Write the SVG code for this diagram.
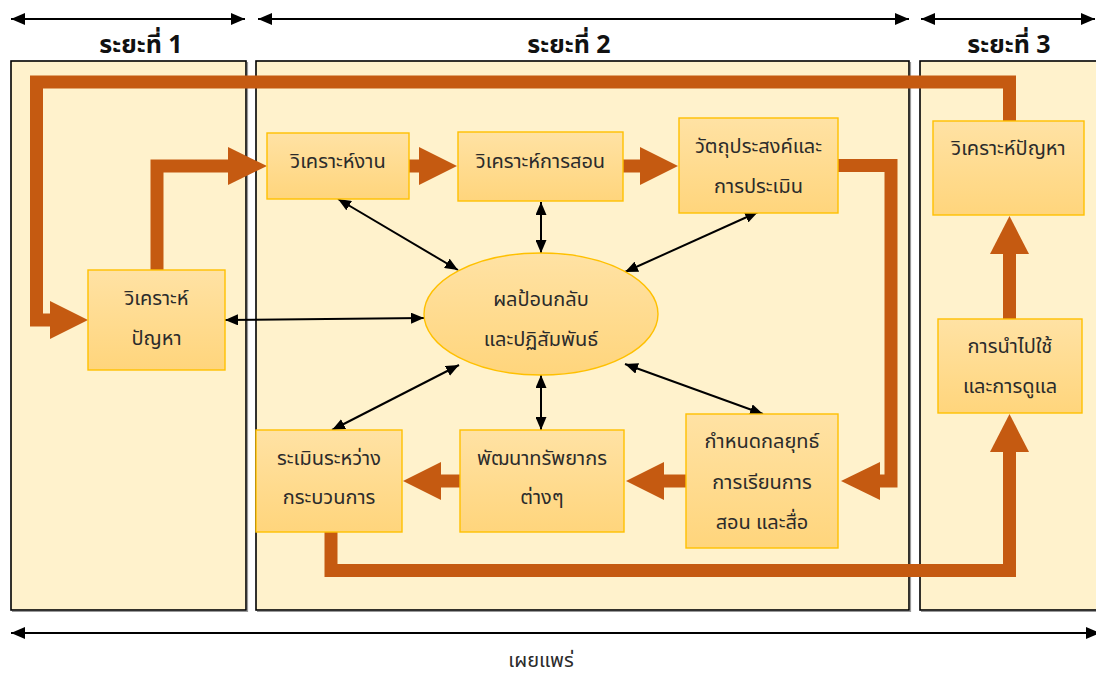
<svg xmlns="http://www.w3.org/2000/svg" width="1096" height="675" viewBox="0 0 1096 675">
  <defs>
    <linearGradient id="nodeFill" x1="0" y1="0" x2="0" y2="1">
      <stop offset="0" stop-color="#FFE2A4"/>
      <stop offset="1" stop-color="#FFD57C"/>
    </linearGradient>
    <marker id="tip" viewBox="0 0 13 11" refX="13" refY="5.5" markerWidth="13" markerHeight="11" markerUnits="userSpaceOnUse" orient="auto-start-reverse">
      <path d="M0,0 L13,5.5 L0,11 Z" fill="#000"/>
    </marker>
    <marker id="span" viewBox="0 0 14 12" refX="14" refY="6" markerWidth="14" markerHeight="12" markerUnits="userSpaceOnUse" orient="auto-start-reverse">
      <path d="M0,0 L14,6 L0,12 Z" fill="#000"/>
    </marker>
  </defs>
  <style>
    .panel { fill: #FFF2CC; stroke: #000; stroke-width: 1.6; }
    .shade { fill: none; stroke: #555; stroke-width: 1.2; opacity: 0.6; }
    .node { fill: url(#nodeFill); stroke: #FFC000; stroke-width: 1.4; }
    .lbl { font-family: "Noto Sans Thai", "Tahoma", "Leelawadee UI", "Noto Sans", "DejaVu Sans", sans-serif; font-size: 20px; fill: #2b2b2b; text-anchor: middle; }
    .head { font-family: "Noto Sans Thai", "Tahoma", "Noto Sans", "DejaVu Sans", sans-serif; font-size: 25px; font-weight: bold; fill: #111; text-anchor: middle; }
    .flow { fill: none; stroke: #C55A11; stroke-width: 13; stroke-linejoin: miter; }
    .flowhead { fill: #C55A11; }
    .link { stroke: #000; stroke-width: 2; fill: none; marker-start: url(#tip); marker-end: url(#tip); }
    .spanline { stroke: #000; stroke-width: 2; fill: none; marker-start: url(#span); marker-end: url(#span); }
  </style>

  <rect width="1096" height="675" fill="#fff"/>

  <!-- phase spans -->
  <g id="spans">
    <line class="spanline" x1="11" y1="19" x2="245" y2="19"/>
    <line class="spanline" x1="258" y1="19" x2="909" y2="19"/>
    <line class="spanline" x1="921" y1="19" x2="1095" y2="19"/>
    <text class="head" x="141" y="53">ระยะที่ 1</text>
    <text class="head" x="569" y="53">ระยะที่ 2</text>
    <text class="head" x="1009" y="53">ระยะที่ 3</text>
  </g>

  <!-- phase panels -->
  <g id="panels">
    <rect id="phase1" class="panel" x="11" y="61" width="235" height="549"/>
    <rect id="phase2" class="panel" x="256" y="61" width="653" height="549"/>
    <rect id="phase3" class="panel" x="920" y="61" width="190" height="549"/>
    <path class="shade" d="M12,611.5 H247.5 V62 M257,611.5 H910.5 V62 M921,611.5 H1096"/>
  </g>

  <!-- connectors -->
  <g id="connectors">
    <!-- main flow -->
    <path class="flow" d="M1009.5,121 V82 H36.5 V320 H51"/>
    <polygon class="flowhead" points="50,301 88,320 50,339"/>
    <path class="flow" d="M157,270 V166 H229"/>
    <polygon class="flowhead" points="228,147 267,166 228,185"/>
    <path class="flow" d="M409,166 H420"/>
    <polygon class="flowhead" points="419,147 457,166 419,185"/>
    <path class="flow" d="M623,166 H641"/>
    <polygon class="flowhead" points="640,147 678,166 640,185"/>
    <path class="flow" d="M838,165.5 H891 V481 H879"/>
    <polygon class="flowhead" points="880,462 841,481 880,500"/>
    <path class="flow" d="M686,481 H663"/>
    <polygon class="flowhead" points="664,462 626,481 664,500"/>
    <path class="flow" d="M460,481 H440"/>
    <polygon class="flowhead" points="441,462 403,481 441,500"/>
    <path class="flow" d="M331,532 V570.5 H1009.5 V451"/>
    <polygon class="flowhead" points="990,452 1009.5,414 1029,452"/>
    <path class="flow" d="M1009.5,319 V253"/>
    <polygon class="flowhead" points="990,254 1009.5,216 1029,254"/>

    <!-- feedback links -->
    <line class="link" x1="338" y1="199" x2="458" y2="270"/>
    <line class="link" x1="541" y1="202" x2="541" y2="253"/>
    <line class="link" x1="758" y1="212" x2="625" y2="272"/>
    <line class="link" x1="225" y1="320" x2="424" y2="318"/>
    <line class="link" x1="459" y1="365" x2="332" y2="430"/>
    <line class="link" x1="541" y1="375" x2="541" y2="430"/>
    <line class="link" x1="625" y1="364" x2="763" y2="414"/>
  </g>

  <!-- nodes -->
  <g id="n-analyze-problem">
    <rect class="node" x="88" y="270" width="137" height="100"/>
    <text class="lbl" x="156.5" y="305">วิเคราะห์</text>
    <text class="lbl" x="156.5" y="345">ปัญหา</text>
  </g>
  <g id="n-analyze-task">
    <rect class="node" x="267" y="133" width="142" height="66"/>
    <text class="lbl" x="338" y="168">วิเคราะห์งาน</text>
  </g>
  <g id="n-analyze-teaching">
    <rect class="node" x="458" y="132" width="165" height="69"/>
    <text class="lbl" x="540.5" y="168">วิเคราะห์การสอน</text>
  </g>
  <g id="n-objectives">
    <rect class="node" x="679" y="118" width="159" height="95"/>
    <text class="lbl" x="758.5" y="153">วัตถุประสงค์และ</text>
    <text class="lbl" x="758.5" y="193">การประเมิน</text>
  </g>
  <g id="n-feedback">
    <ellipse class="node" cx="541" cy="314" rx="117" ry="61"/>
    <text class="lbl" x="541" y="306">ผลป้อนกลับ</text>
    <text class="lbl" x="541" y="346">และปฏิสัมพันธ์</text>
  </g>
  <g id="n-formative">
    <rect class="node" x="256" y="430" width="146" height="102"/>
    <text class="lbl" x="329" y="465">ระเมินระหว่าง</text>
    <text class="lbl" x="329" y="504">กระบวนการ</text>
  </g>
  <g id="n-resources">
    <rect class="node" x="460" y="430" width="164" height="102"/>
    <text class="lbl" x="542" y="465">พัฒนาทรัพยากร</text>
    <text class="lbl" x="542" y="504">ต่างๆ</text>
  </g>
  <g id="n-strategy">
    <rect class="node" x="686" y="414" width="152" height="134"/>
    <text class="lbl" x="762" y="448">กำหนดกลยุทธ์</text>
    <text class="lbl" x="762" y="489">การเรียนการ</text>
    <text class="lbl" x="762" y="529">สอน และสื่อ</text>
  </g>
  <g id="n-analyze-problem-2">
    <rect class="node" x="933" y="121" width="151" height="94"/>
    <text class="lbl" x="1008.5" y="155">วิเคราะห์ปัญหา</text>
  </g>
  <g id="n-deploy">
    <rect class="node" x="938" y="319" width="144" height="94"/>
    <text class="lbl" x="1010" y="353">การนำไปใช้</text>
    <text class="lbl" x="1010" y="393">และการดูแล</text>
  </g>

  <!-- dissemination span -->
  <g id="dissemination">
    <line class="spanline" x1="11" y1="633" x2="1100" y2="633"/>
    <text class="lbl" x="541" y="667">เผยแพร่</text>
  </g>
</svg>
